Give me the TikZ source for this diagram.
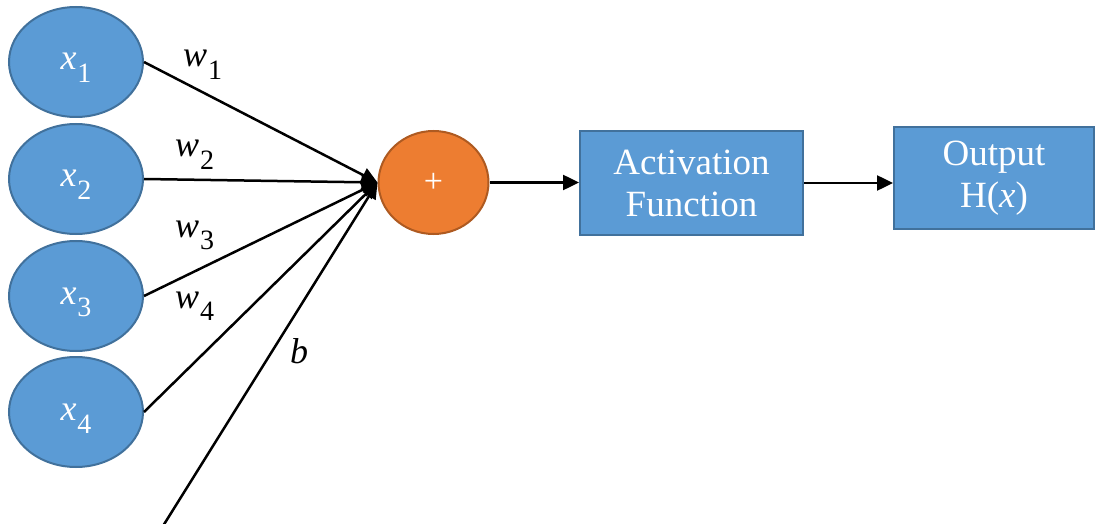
\documentclass[tikz,border=0pt]{standalone}
\usepackage{fontspec}
\setmainfont{Liberation Serif}
\usetikzlibrary{shapes.geometric,arrows.meta}

\definecolor{nodeblue}{HTML}{5B9BD5}
\definecolor{blueedge}{HTML}{41719C}
\definecolor{sumorange}{HTML}{ED7D31}
\definecolor{orangeedge}{HTML}{AE5A21}

% italic symbol with a lowered upright index
\newcommand{\symsub}[2]{{\itshape #1}\kern1pt\raisebox{-13pt}{\fontsize{28}{28}\selectfont #2}}

\tikzset{
  inputnode/.style={ellipse, draw=blueedge, fill=nodeblue, line width=2pt,
    minimum width=134pt, minimum height=110pt, inner sep=0pt, text=white,
    font=\fontsize{36}{40}\selectfont, text height=16pt, text depth=0pt},
  sumnode/.style={ellipse, draw=orangeedge, fill=sumorange, line width=2pt,
    minimum width=110pt, minimum height=103pt, inner sep=0pt, text=white,
    font=\fontsize{34}{38}\selectfont},
  blockbox/.style={rectangle, draw=blueedge, fill=nodeblue, line width=2pt,
    inner sep=0pt, text=white, align=center,
    font=\fontsize{37}{42}\selectfont},
  weightlbl/.style={anchor=base west, inner sep=0pt,
    font=\fontsize{36}{40}\selectfont},
  conn/.style={line width=2.5pt, -{Triangle[length=16pt,width=15pt]}}
}

\begin{document}
\begin{tikzpicture}[x=1pt,y=-1pt]
  \useasboundingbox (0,0) rectangle (1096,524);

  % inputs
  \node[inputnode] (x1) at (76,62)  {\symsub{x}{1}};
  \node[inputnode] (x2) at (76,179) {\symsub{x}{2}};
  \node[inputnode] (x3) at (76,296) {\symsub{x}{3}};
  \node[inputnode] (x4) at (76,412) {\symsub{x}{4}};

  % summation, activation and output
  \node[sumnode] (sum) at (433.5,182.5) {+};
  \node[blockbox, minimum width=223pt, minimum height=104pt] (act) at (691.5,183)
    {Activation\\Function};
  \node[blockbox, minimum width=200pt, minimum height=102pt] (out) at (994,178)
    {Output\\H(\textit{x})};

  % bias input enters from below
  \coordinate (bias) at (163,526);

  % weighted connections into the summation
  \draw[conn] (x1.east) -- (sum.west);
  \draw[conn] (x2.east) -- (sum.west);
  \draw[conn] (x3.east) -- (sum.west);
  \draw[conn] (x4.east) -- (sum.west);
  \draw[conn] (bias) -- (sum.west);

  \draw[conn] (sum.east) -- (act.west |- sum.east);
  \draw[conn] (act.east) -- (act.east -| out.west);

  % weight and bias labels
  \node[weightlbl] (lw1) at (183,67)  {\symsub{w}{1}};
  \node[weightlbl] (lw2) at (175,157) {\symsub{w}{2}};
  \node[weightlbl] (lw3) at (175,237) {\symsub{w}{3}};
  \node[weightlbl] (lw4) at (175,308) {\symsub{w}{4}};
  \node[weightlbl] (lb)  at (290,363) {\itshape b};
\end{tikzpicture}
\end{document}
